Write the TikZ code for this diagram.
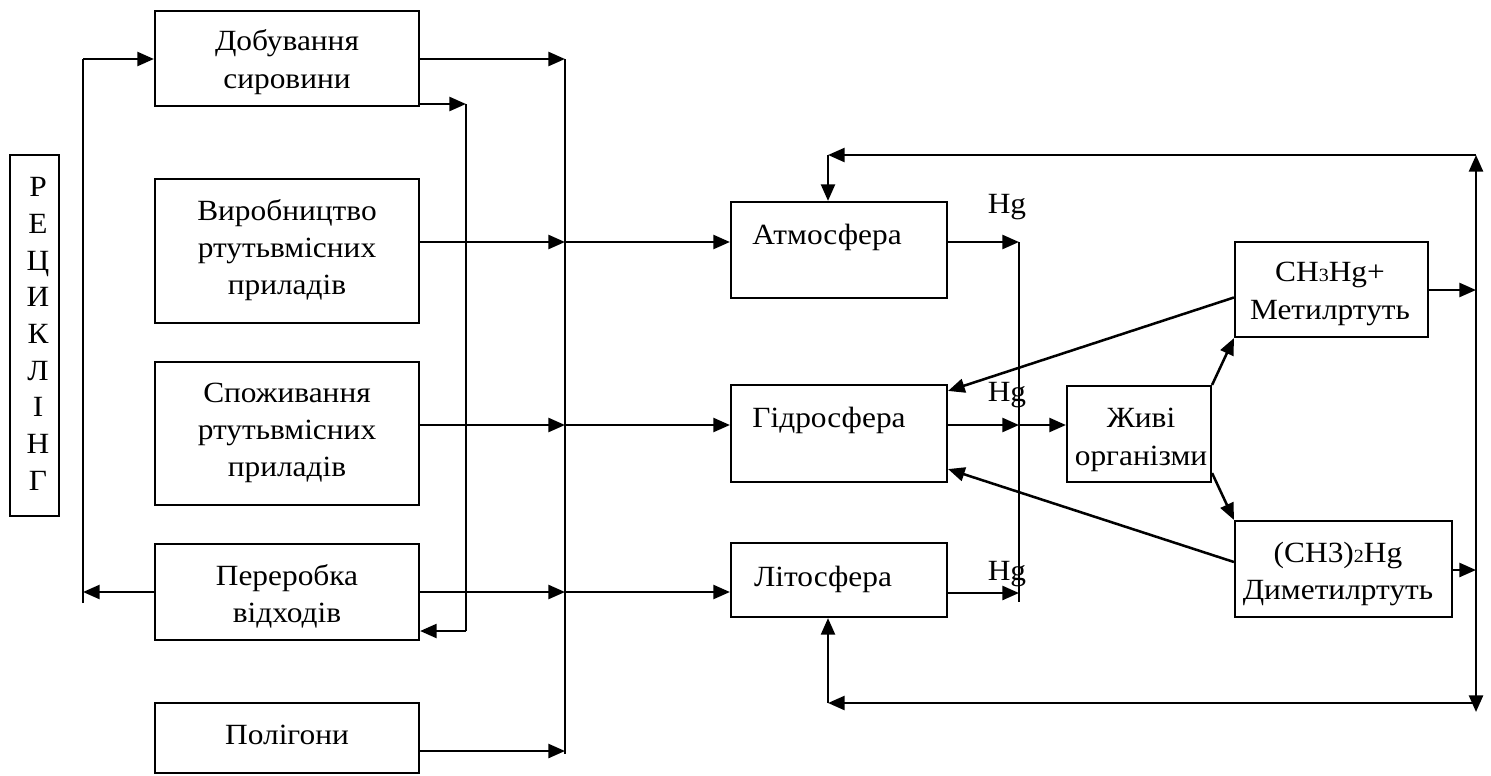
\documentclass[tikz,border=0pt]{standalone}
\usepackage{fontspec}
\setmainfont{Liberation Serif}[FakeStretch=1.07]
\usetikzlibrary{arrows.meta,calc,fit}
\newcommand\smdig[1]{{\fontsize{14}{14}\selectfont #1}}
\begin{document}
\begin{tikzpicture}[x=0.75pt,y=-0.75pt,
  box/.style={draw,line width=1.6pt,inner sep=0pt},
  txt/.style={align=center,inner sep=0pt,font=\fontsize{22}{28}\selectfont},
  arr/.style={line width=1.9pt,-{Triangle[length=12.5pt,width=10.5pt]}},
  dbl/.style={line width=1.9pt,{Triangle[length=12.5pt,width=10.5pt]}-{Triangle[length=12.5pt,width=10.5pt]}},
  ln/.style={line width=1.4pt},
  thin/.style={line width=1.1pt}]
\useasboundingbox (0,0) rectangle (1491,775);
% boxes
\node[box,fit={(10,155)(59,516)}] (rec) {};
\node[box,fit={(155,11)(419,106)}] (dob) {};
\node[box,fit={(155,179)(419,323)}] (vyr) {};
\node[box,fit={(155,362)(419,505)}] (spo) {};
\node[box,fit={(155,544)(419,640)}] (per) {};
\node[box,fit={(155,703)(419,773)}] (pol) {};
\node[box,fit={(731,202)(947,298)}] (atm) {};
\node[box,fit={(731,385)(947,482)}] (gid) {};
\node[box,fit={(731,543)(947,617)}] (lit) {};
\node[box,fit={(1067,386)(1211,482)}] (ziv) {};
\node[box,fit={(1235,242)(1428,337)}] (ch) {};
\node[box,fit={(1235,521)(1452,617)}] (dim) {};
% texts
\node[txt,font=\fontsize{22}{27.5}\selectfont] (trec) at (38,334) {Р\\Е\\Ц\\И\\К\\Л\\І\\Н\\Г};
\node[txt] (tdob) at (287,62) {Добування\\сировини};
\node[txt] (tvyr) at (287,250) {Виробництво\\ртутьвмісних\\приладів};
\node[txt] (tspo) at (287,433) {Споживання\\ртутьвмісних\\приладів};
\node[txt] (tper) at (287,596) {Переробка\\відходів};
\node[txt,anchor=base] (tpol) at (287,744) {Полігони};
\node[txt,anchor=base] (tatm) at (827,244) {Атмосфера};
\node[txt,anchor=base] (tgid) at (829,427) {Гідросфера};
\node[txt,anchor=base] (tlit) at (823,586) {Літосфера};
\node[txt,anchor=base] (hg1) at (1007,213) {Hg};
\node[txt,anchor=base] (hg2) at (1007,401) {Hg};
\node[txt,anchor=base] (hg3) at (1007,580) {Hg};
\node[txt] (tziv) at (1141,440) {Живі\\організми};
\node[txt] (tch) at (1330,294) {CH\smdig{3}Hg+\\Метилртуть};
\node[txt] (tdim) at (1338,574) {(CH3)\smdig{2}Hg\\Диметилртуть};
% recycling loop
\coordinate (L1) at (83,59);
\coordinate (L2) at (83,603);
\draw[ln] (L2) -- (L1);
\draw[arr] (L1) -- (L1 -| dob.west);
\draw[arr] (per.west) -- (per.west -| L1);
% inner loop
\coordinate (R1) at (466,104);
\coordinate (R2) at (466,631);
\draw[arr] (R1 -| dob.east) -- (R1);
\draw[ln] (R1) -- (R2);
\draw[arr] (R2) -- (R2 -| per.east);
% collector
\coordinate (C1) at (565,59);
\coordinate (C2) at (565,754);
\coordinate (J1) at (565,242);
\coordinate (J2) at (565,425);
\coordinate (J3) at (565,592);
\coordinate (J4) at (565,751);
\draw[ln] (C1) -- (C2);
\draw[arr] (C1 -| dob.east) -- (C1);
\draw[arr] (J1 -| vyr.east) -- (J1);
\draw[arr] (J1) -- (J1 -| atm.west);
\draw[arr] (J2 -| spo.east) -- (J2);
\draw[arr] (J2) -- (J2 -| gid.west);
\draw[arr] (J3 -| per.east) -- (J3);
\draw[arr] (J3) -- (J3 -| lit.west);
\draw[arr] (J4 -| pol.east) -- (J4);
% Hg collector
\coordinate (H1) at (1019,242);
\coordinate (H2) at (1019,425);
\coordinate (H3) at (1019,593);
\coordinate (H4) at (1019,602);
\draw[thin] (H1) -- (H4);
\draw[arr] (H1 -| atm.east) -- (H1);
\draw[arr] (H2 -| gid.east) -- (H2);
\draw[arr] (H2) -- (H2 -| ziv.west);
\draw[arr] (H3 -| lit.east) -- (H3);
% living organisms
\draw[arr] (ziv.north east) -- (ch.south west);
\draw[arr] ($(ziv.south east)+(0,-10)$) -- (dim.north west);
\draw[arr] ($(ch.west)+(0,8)$) -- ($(gid.north east)+(0,7)$);
\draw[arr] ($(dim.west)+(0,-7)$) -- ($(gid.south east)+(0,-14)$);
% right side loop
\coordinate (VT) at (1476,155);
\coordinate (VB) at (1476,712);
\coordinate (V2) at (1476,290);
\coordinate (V3) at (1476,570);
\coordinate (T1) at (828,155);
\coordinate (B0) at (1476,703);
\coordinate (B1) at (828,703);
\draw[dbl] (VB) -- (VT);
\draw[arr] (V2 -| ch.east) -- (V2);
\draw[arr] (V3 -| dim.east) -- (V3);
\draw[arr] (VT) -- (T1);
\draw[arr] (T1) -- (T1 |- atm.north);
\draw[arr] (B0) -- (B1);
\draw[arr] (B1) -- (B1 |- lit.south);
\end{tikzpicture}
\end{document}
